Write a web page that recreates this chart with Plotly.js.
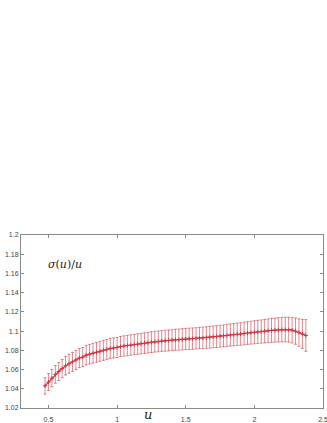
<!DOCTYPE html>
<html>
<head>
<meta charset="utf-8">
<script src="https://cdn.plot.ly/plotly-3.0.1.min.js"></script>
<style>
  html, body { margin: 0; padding: 0; background: #fff; }
  #chart { width: 327px; height: 423px; }
</style>
</head>
<body>
<div id="chart"></div>
<script>
// sigma(u)/u
const uVals = [
  0.475, 0.5, 0.525, 0.55, 0.575, 0.6, 0.625, 0.65, 0.675, 0.7,
  0.725, 0.75, 0.775, 0.8, 0.825, 0.85, 0.875, 0.9, 0.925, 0.95,
  0.975, 1.0, 1.025, 1.05, 1.075, 1.1, 1.125, 1.15, 1.175, 1.2,
  1.225, 1.25, 1.275, 1.3, 1.325, 1.35, 1.375, 1.4, 1.425, 1.45,
  1.475, 1.5, 1.525, 1.55, 1.575, 1.6, 1.625, 1.65, 1.675, 1.7,
  1.725, 1.75, 1.775, 1.8, 1.825, 1.85, 1.875, 1.9, 1.925, 1.95,
  1.975, 2.0, 2.025, 2.05, 2.075, 2.1, 2.125, 2.15, 2.175, 2.2,
  2.225, 2.25, 2.275, 2.3, 2.325, 2.35, 2.375
];
const ratio = [
  1.043, 1.047, 1.051, 1.055, 1.058, 1.061, 1.064, 1.066, 1.068, 1.070,
  1.072, 1.073, 1.075, 1.076, 1.077, 1.078, 1.079, 1.080, 1.081, 1.082,
  1.0825, 1.083, 1.084, 1.0845, 1.085, 1.0855, 1.086, 1.0865, 1.087, 1.0875,
  1.088, 1.0885, 1.089, 1.0893, 1.0897, 1.090, 1.0903, 1.0906, 1.091, 1.0912,
  1.0915, 1.0918, 1.092, 1.0922, 1.0925, 1.0928, 1.093, 1.0933, 1.0936, 1.094,
  1.0943, 1.0947, 1.095, 1.0955, 1.096, 1.0963, 1.0967, 1.097, 1.0975, 1.098,
  1.0984, 1.0988, 1.0992, 1.0996, 1.100, 1.1004, 1.1008, 1.101, 1.1013, 1.1015,
  1.1016, 1.1015, 1.101, 1.100, 1.0985, 1.097, 1.0955
];
const ratioErr = [
  0.0085, 0.0088, 0.009, 0.0092, 0.0094, 0.0095, 0.0097, 0.0098, 0.0099, 0.010,
  0.010, 0.010, 0.0102, 0.0102, 0.0103, 0.0103, 0.0104, 0.0104, 0.0104, 0.0105,
  0.0105, 0.0105, 0.0105, 0.0106, 0.0106, 0.0106, 0.0106, 0.0107, 0.0107, 0.0107,
  0.0107, 0.0108, 0.0108, 0.0108, 0.0108, 0.0109, 0.0109, 0.0109, 0.011, 0.011,
  0.011, 0.011, 0.0111, 0.0111, 0.0111, 0.0112, 0.0112, 0.0112, 0.0113, 0.0113,
  0.0113, 0.0114, 0.0114, 0.0115, 0.0115, 0.0116, 0.0116, 0.0117, 0.0118, 0.0118,
  0.0119, 0.012, 0.012, 0.0121, 0.0122, 0.0123, 0.0124, 0.0125, 0.0126, 0.0127,
  0.0128, 0.013, 0.0133, 0.0137, 0.0143, 0.015, 0.0165
];

const xTicks = [0.5, 1, 1.5, 2, 2.5];
const xTickText = ['0.5', '1', '1.5', '2', '2.5'];
const yTicks = [1.02, 1.04, 1.06, 1.08, 1.1, 1.12, 1.14, 1.16, 1.18, 1.2];
const yTickText = ['1.02', '1.04', '1.06', '1.08', '1.1', '1.12', '1.14', '1.16', '1.18', '1.2'];

const RED = '#cc3a44';

const axisCommon = {
  showgrid: false,
  zeroline: false,
  showline: true,
  linecolor: '#8a8a8a',
  linewidth: 1,
  mirror: 'ticks',
  ticks: 'inside',
  ticklen: 3,
  tickcolor: '#8a8a8a',
  ticklabeloverflow: 'allow',
  tickfont: { family: 'Liberation Sans, Arial, sans-serif', size: 7, color: '#444' }
};

Plotly.newPlot('chart', [{
  x: uVals,
  y: ratio,
  type: 'scatter',
  mode: 'lines+markers',
  line: { color: RED, width: 1.2 },
  marker: { symbol: 'cross-thin', size: 3, line: { color: RED, width: 1 }, color: RED },
  error_y: { type: 'data', array: ratioErr, visible: true, color: 'rgba(200,45,55,0.8)', thickness: 0.7, width: 1.5 },
  showlegend: false,
  hoverinfo: 'skip'
}], {
  width: 327,
  height: 423,
  margin: { l: 21, r: 4, t: 235, b: 15 },
  paper_bgcolor: '#fff',
  plot_bgcolor: '#fff',
  xaxis: { ...axisCommon, range: [0.3, 2.5], tickvals: xTicks, ticktext: xTickText, ticklabelstandoff: 5 },
  yaxis: { ...axisCommon, range: [1.02, 1.2], tickvals: yTicks, ticktext: yTickText },
  annotations: [
    {
      x: 0.48, y: 1.169, xref: 'x', yref: 'y', xanchor: 'left', yanchor: 'middle',
      text: '<i>σ</i>(<i>u</i>)/<i>u</i>', showarrow: false,
      font: { family: 'DejaVu Serif, Liberation Serif, serif', size: 11, color: '#222' }
    },
    {
      x: 1.225, y: -0.035, xref: 'x', yref: 'paper', xanchor: 'center', yanchor: 'middle',
      text: '<i>u</i>', showarrow: false,
      font: { family: 'DejaVu Serif, Liberation Serif, serif', size: 13, color: '#222' }
    }
  ]
}, { staticPlot: true, displayModeBar: false });
</script>
</body>
</html>
